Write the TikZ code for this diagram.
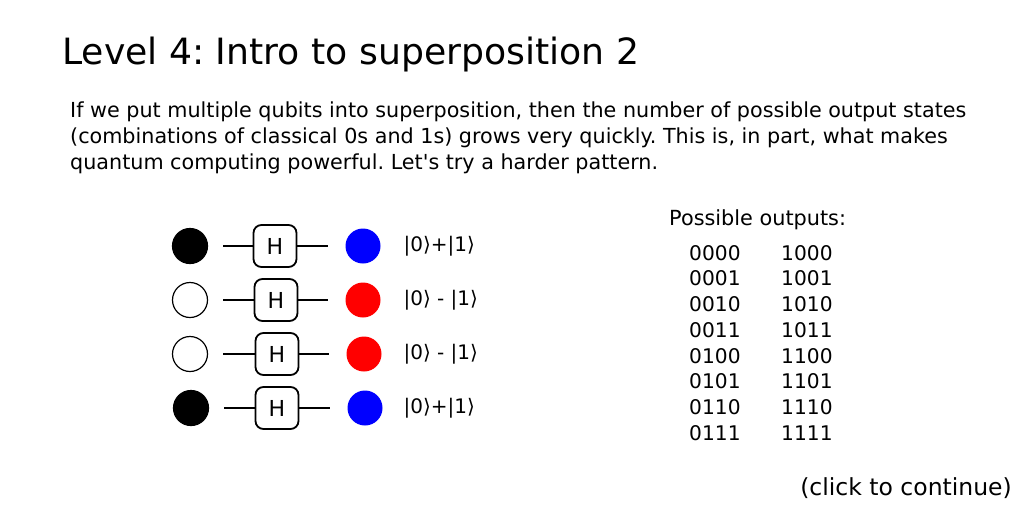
\documentclass[tikz,border=0pt]{standalone}
\usepackage{fontspec}
\setmainfont{DejaVu Sans}[Ligatures=TeXOff]
\usetikzlibrary{positioning}
\frenchspacing

\begin{document}
\begin{tikzpicture}[
  x=1pt, y=-1pt,
  qubit/.style={circle, draw=black, line width=1.2pt, minimum size=35pt, inner sep=0pt},
  onebit/.style={qubit, fill=black},
  zerobit/.style={qubit, fill=white},
  plusbit/.style={circle, fill=blue, minimum size=35pt, inner sep=0pt},
  minusbit/.style={circle, fill=red, minimum size=35pt, inner sep=0pt},
  gate/.style={draw, line width=1.8pt, rounded corners=8pt, minimum width=43pt, minimum height=42pt, inner sep=0pt, font=\fontsize{22}{26}\selectfont},
  wire/.style={line width=1.8pt},
  ket/.style={anchor=west, font=\fontsize{20}{24}\selectfont},
  bits/.style={anchor=north west, inner sep=0pt, align=left, font=\fontsize{20.2}{25.7}\selectfont}
]
\useasboundingbox (0,0) rectangle (1024,512);

% -- headings
\node[anchor=base west, inner sep=0pt, font=\fontsize{36.2}{40}\selectfont] (title) at (62,64) {Level 4: Intro to superposition 2};
\node[anchor=base west, inner sep=0pt, align=left, font=\fontsize{20.7}{26}\selectfont] (intro) at (70,169)
  {If we put multiple qubits into superposition, then the number of possible output states\\
   (combinations of classical 0s and 1s) grows very quickly. This is, in part, what makes\\
   quantum computing powerful. Let's try a harder pattern.};

% -- circuit rows: input, H gate, output, state
\node[onebit]  (in1) at (190,246) {};
\node[gate]    (h1)  at (275,246) {H};
\node[plusbit] (out1) at (363,246) {};
\node[ket] (k1) at (400,246) {|0⟩+|1⟩};

\node[zerobit]  (in2) at (190,300) {};
\node[gate]     (h2)  at (276,300) {H};
\node[minusbit] (out2) at (363,300) {};
\node[ket] (k2) at (400,300) {|0⟩ - |1⟩};

\node[zerobit]  (in3) at (190,354) {};
\node[gate]     (h3)  at (277,354) {H};
\node[minusbit] (out3) at (364,354) {};
\node[ket] (k3) at (400,354) {|0⟩ - |1⟩};

\node[onebit]  (in4) at (191,408) {};
\node[gate]    (h4)  at (277,408) {H};
\node[plusbit] (out4) at (365,408) {};
\node[ket] (k4) at (400,408) {|0⟩+|1⟩};

% wires stop short of the circles
\foreach \r in {1,2,3,4}{
  \draw[wire] ([xshift=15pt]in\r.east) -- (h\r.west);
  \draw[wire] (h\r.east) -- ([xshift=-17pt]out\r.west);
}

% -- list of outputs
\node[anchor=base west, inner sep=0pt, font=\fontsize{20.8}{24}\selectfont] (outs) at (669,225) {Possible outputs:};
\node[bits] (col0) at (689,245) {0000\\0001\\0010\\0011\\0100\\0101\\0110\\0111};
\node[bits] (col1) at (781,245) {1000\\1001\\1010\\1011\\1100\\1101\\1110\\1111};

\node[anchor=base east, inner sep=0pt, font=\fontsize{23.5}{26}\selectfont] (cont) at (1012,495) {(click to continue)};
\end{tikzpicture}
\end{document}
